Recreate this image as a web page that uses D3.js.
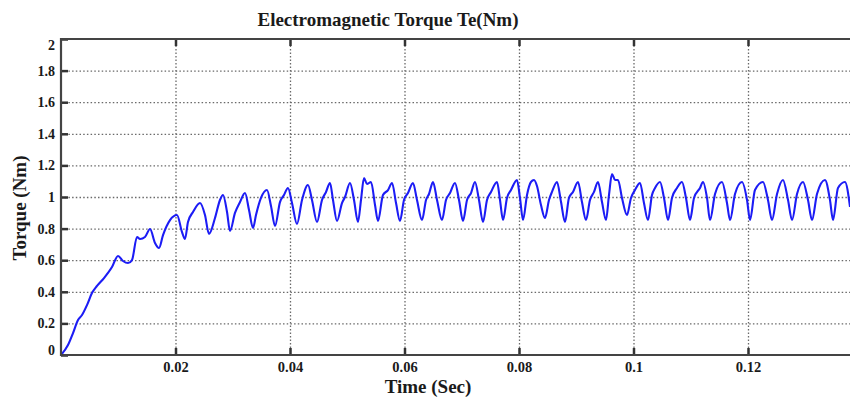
<!DOCTYPE html>
<html>
<head>
<meta charset="utf-8">
<script src="https://cdn.jsdelivr.net/npm/d3@7"></script>
<style>
  body { margin: 0; background: #fff; }
  svg text { font-family: "Liberation Serif", "Times New Roman", serif; font-weight: bold; fill: #1a1a1a; }
</style>
</head>
<body>
<svg id="chart" width="850" height="398"></svg>
<script>
// data
var time = [0, 0.00122, 0.0021, 0.00297, 0.00367, 0.00454, 0.00541, 0.00629, 0.00751, 0.00891,
  0.00996, 0.01083, 0.0117, 0.0124, 0.01328, 0.0138, 0.01467, 0.01555, 0.01642, 0.01712,
  0.01782, 0.01904, 0.02026, 0.02114, 0.02166, 0.02218, 0.02306, 0.02428, 0.02515, 0.02585,
  0.0269, 0.02777, 0.0283, 0.029, 0.02952, 0.03039, 0.03127, 0.03214, 0.03284, 0.03354,
  0.03406, 0.03493, 0.03598, 0.03668, 0.03738, 0.03825, 0.03895, 0.03965, 0.04035, 0.04122,
  0.0421, 0.04314, 0.04384, 0.04472, 0.04559, 0.04629, 0.04699, 0.04751, 0.04821, 0.04908,
  0.04961, 0.05048, 0.05118, 0.05188, 0.0524, 0.05293, 0.05345, 0.05415, 0.05485, 0.05537,
  0.05624, 0.05712, 0.05782, 0.05852, 0.05921, 0.05991, 0.06061, 0.06148, 0.06218, 0.06306,
  0.06376, 0.06428, 0.06498, 0.06568, 0.06655, 0.06725, 0.06795, 0.06882, 0.06952, 0.07022,
  0.07092, 0.07162, 0.07231, 0.07301, 0.07371, 0.07441, 0.07511, 0.07616, 0.07668, 0.07721,
  0.0779, 0.0786, 0.07965, 0.08017, 0.0807, 0.0814, 0.0821, 0.08262, 0.08314, 0.08384,
  0.08454, 0.08524, 0.08576, 0.08664, 0.08734, 0.08803, 0.08873, 0.08943, 0.09031, 0.091,
  0.0917, 0.0924, 0.0931, 0.0938, 0.0945, 0.0952, 0.09572, 0.09624, 0.09677, 0.09729,
  0.09799, 0.09886, 0.09956, 0.10026, 0.10114, 0.10183, 0.10253, 0.10323, 0.10376, 0.10463,
  0.10533, 0.10603, 0.10672, 0.1076, 0.10847, 0.10917, 0.10987, 0.11057, 0.11162, 0.11214,
  0.11284, 0.11336, 0.11424, 0.11546, 0.11633, 0.11686, 0.11773, 0.11895, 0.11983, 0.12035,
  0.12122, 0.12262, 0.12349, 0.12419, 0.12507, 0.12611, 0.12699, 0.12769, 0.12856, 0.12961,
  0.13048, 0.13118, 0.13205, 0.13345, 0.13432, 0.13485, 0.13572, 0.13694, 0.13782];

var torque = [0, 0.063, 0.139, 0.222, 0.253, 0.316, 0.392, 0.437, 0.487, 0.557,
  0.627, 0.595, 0.582, 0.601, 0.747, 0.734, 0.747, 0.797, 0.709, 0.677,
  0.759, 0.854, 0.886, 0.778, 0.734, 0.842, 0.905, 0.962, 0.886, 0.766,
  0.867, 0.981, 1.013, 0.905, 0.785, 0.899, 0.968, 1.025, 0.918, 0.804,
  0.886, 0.994, 1.044, 0.943, 0.816, 0.968, 1.013, 1.057, 0.962, 0.829,
  0.981, 1.076, 0.981, 0.842, 0.981, 1.032, 1.089, 0.981, 0.848, 0.962,
  1.0, 1.089, 0.981, 0.842, 0.981, 1.12, 1.082, 1.095, 0.949, 0.848,
  1.013, 1.044, 1.089, 0.962, 0.848, 0.981, 1.025, 1.089, 0.981, 0.854,
  0.981, 1.019, 1.095, 0.981, 0.854, 0.981, 1.025, 1.089, 0.981, 0.848,
  0.981, 1.025, 1.095, 0.981, 0.842, 0.981, 1.032, 1.095, 0.981, 0.854,
  0.994, 1.044, 1.108, 0.994, 0.854, 1.013, 1.095, 1.108, 1.07, 0.949,
  0.867, 0.981, 1.032, 1.095, 0.968, 0.842, 0.994, 1.032, 1.095, 0.968,
  0.854, 0.981, 1.032, 1.095, 0.968, 0.854, 1.013, 1.146, 1.108, 1.108,
  0.994, 0.886, 0.994, 1.044, 1.089, 0.962, 0.854, 1.013, 1.057, 1.095,
  0.994, 0.854, 0.994, 1.057, 1.095, 0.994, 0.854, 0.994, 1.057, 1.095,
  0.994, 0.854, 1.019, 1.095, 0.962, 0.854, 1.019, 1.095, 0.981, 0.854,
  1.044, 1.095, 0.981, 0.854, 1.019, 1.108, 0.981, 0.854, 1.019, 1.095,
  0.981, 0.854, 1.019, 1.108, 0.981, 0.854, 1.057, 1.095, 0.937];

var xTicks = [0.02, 0.04, 0.06, 0.08, 0.1, 0.12];
var xTickLabels = ["0.02", "0.04", "0.06", "0.08", "0.1", "0.12"];
var yTicks = [0, 0.2, 0.4, 0.6, 0.8, 1, 1.2, 1.4, 1.6, 1.8, 2];
var yTickLabels = ["0", "0.2", "0.4", "0.6", "0.8", "1", "1.2", "1.4", "1.6", "1.8", "2"];

var svg = d3.select("#chart");
var pLeft = 61, pRight = 850, pTop = 39, pBottom = 355;

// x scale runs a bit past the window, the picture is cropped on the right
var x = d3.scaleLinear().domain([0, 0.14]).range([pLeft, 862.5]);
var y = d3.scaleLinear().domain([0, 2]).range([pBottom, pTop]);

svg.append("clipPath").attr("id", "plot")
  .append("rect").attr("x", pLeft).attr("y", pTop - 2)
  .attr("width", pRight - pLeft).attr("height", pBottom - pTop + 4);

// grid
svg.append("g")
  .attr("transform", "translate(0," + pBottom + ")")
  .call(d3.axisBottom(x).tickValues(xTicks).tickSize(-(pBottom - pTop)).tickFormat(""))
  .call(function(g) { g.select(".domain").remove(); })
  .selectAll("line")
  .attr("stroke", "#6a6a6a").attr("stroke-width", 1.3).attr("stroke-dasharray", "1.5,2");

svg.append("g")
  .attr("transform", "translate(" + pLeft + ",0)")
  .call(d3.axisLeft(y).tickValues(yTicks.slice(1, -1)).tickSize(-(pRight - pLeft)).tickFormat(""))
  .call(function(g) { g.select(".domain").remove(); })
  .selectAll("line")
  .attr("stroke", "#6a6a6a").attr("stroke-width", 1.3).attr("stroke-dasharray", "1.5,2.2");

// torque line
var line = d3.line()
  .curve(d3.curveMonotoneX)
  .x(function(d, i) { return x(time[i]); })
  .y(function(d, i) { return y(torque[i]); });

svg.append("path")
  .datum(torque)
  .attr("clip-path", "url(#plot)")
  .attr("d", line)
  .attr("fill", "none")
  .attr("stroke", "#1c1cf5")
  .attr("stroke-width", 2.1)
  .attr("stroke-linejoin", "round");

// axes, ticks point inward
var xAxis = svg.append("g")
  .attr("transform", "translate(0," + pBottom + ")")
  .call(d3.axisBottom(x).tickValues(xTicks).tickSize(-7).tickPadding(7)
    .tickFormat(function(d, i) { return xTickLabels[i]; }));
xAxis.select(".domain").remove();
xAxis.selectAll("text").style("font-size", "14.5px");
xAxis.selectAll("line").attr("stroke", "#333").attr("stroke-width", 2.5);

var yAxis = svg.append("g")
  .attr("transform", "translate(" + pLeft + ",0)")
  .call(d3.axisLeft(y).tickValues(yTicks).tickSize(-7).tickPadding(6)
    .tickFormat(function(d, i) { return yTickLabels[i]; }));
yAxis.select(".domain").remove();
yAxis.selectAll("text").style("font-size", "14px")
  .attr("dy", function(d) { return d === 2 ? "0.75em" : (d === 0 ? "-0.05em" : "0.32em"); });
yAxis.selectAll("line").attr("stroke", "#333").attr("stroke-width", 2.5);

// top ticks
svg.append("g")
  .attr("transform", "translate(0," + pTop + ")")
  .call(d3.axisTop(x).tickValues(xTicks).tickSize(-7).tickFormat(""))
  .call(function(g) { g.select(".domain").remove(); })
  .selectAll("line").attr("stroke", "#333").attr("stroke-width", 2.5);

// frame lines
svg.append("line").attr("x1", pLeft).attr("x2", pRight).attr("y1", pTop).attr("y2", pTop)
  .attr("stroke", "#444").attr("stroke-width", 2.2);
svg.append("line").attr("x1", pLeft).attr("x2", pRight).attr("y1", pBottom).attr("y2", pBottom)
  .attr("stroke", "#444").attr("stroke-width", 2.2);
svg.append("line").attr("x1", pLeft).attr("x2", pLeft).attr("y1", pTop - 1).attr("y2", pBottom + 1)
  .attr("stroke", "#444").attr("stroke-width", 2.2);

// titles
svg.append("text")
  .text("Electromagnetic Torque Te(Nm)")
  .attr("x", 388).attr("y", 26)
  .attr("text-anchor", "middle")
  .style("font-size", "19px");

svg.append("text")
  .text("Time (Sec)")
  .attr("x", 428).attr("y", 393)
  .attr("text-anchor", "middle")
  .style("font-size", "19px");

svg.append("text")
  .text("Torque (Nm)")
  .attr("transform", "translate(26,208) rotate(-90)")
  .attr("text-anchor", "middle")
  .style("font-size", "19px");
</script>
</body>
</html>
